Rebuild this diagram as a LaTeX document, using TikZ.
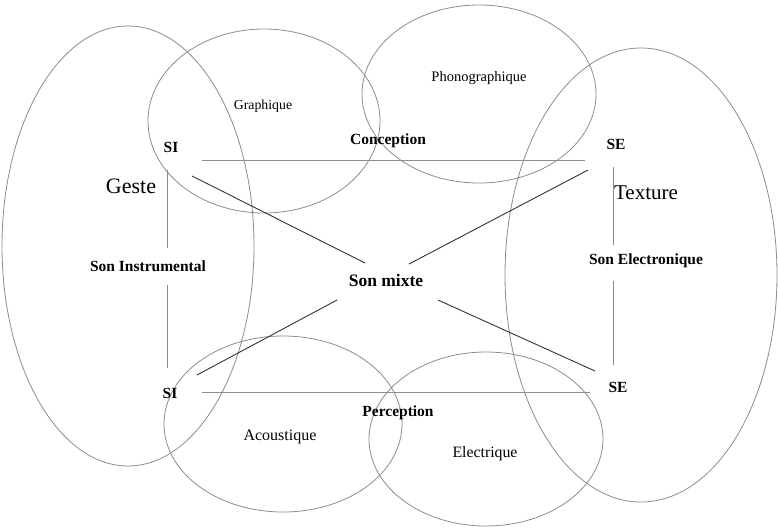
\documentclass[tikz,border=0pt]{standalone}
\usepackage{fontspec}
\setmainfont{Liberation Serif}
\tikzset{
    zone/.style={draw=black!45,line width=0.8pt},
    axe/.style={draw=black!45,line width=0.8pt},
    lien/.style={draw=black!80,line width=0.9pt},
    pole/.style={font=\fontsize{15.5}{17}\selectfont\bfseries},
    titre/.style={font=\fontsize{22}{24}\selectfont},
    champ/.style={font=\fontsize{14.5}{16}\selectfont}
}
\begin{document}
\begin{tikzpicture}[x=1pt,y=-1pt]
        \useasboundingbox (0,0) rectangle (778,528);
        %% Ellipses
        \draw[zone] (128,246) ellipse [x radius=126, y radius=220];
        \draw[zone] (264,121) ellipse [x radius=116, y radius=92];
        \draw[zone] (479,94) ellipse [x radius=117, y radius=89];
        \draw[zone] (641,275) ellipse [x radius=136, y radius=227];
        \draw[zone] (283,424) ellipse [x radius=119, y radius=88];
        \draw[zone] (486,439) ellipse [x radius=117, y radius=87];
        %% Poles
        \node[pole] (siH) at (171,147) {SI};
        \node[pole] (seH) at (616,144) {SE};
        \node[pole] (siB) at (170,393) {SI};
        \node[pole] (seB) at (618,387) {SE};
        \node[pole] (instr) at (148,266) {Son Instrumental};
        \node[pole] (elec) at (646,261) {Son Electronique};
        \node[pole] (concep) at (388,141) {Conception};
        \node[pole] (percep) at (398,413) {Perception};
        \node[pole,font=\fontsize{17.5}{19}\selectfont\bfseries] (mixte) at (386,281) {Son mixte};
        \node[titre] (geste) at (131,186) {Geste};
        \node[titre,font=\fontsize{21}{23}\selectfont] (texture) at (646,193) {Texture};
        \node[champ,font=\fontsize{13.8}{15}\selectfont] (graph) at (263,106) {Graphique};
        \node[champ] (phono) at (479,78) {Phonographique};
        \node[champ,font=\fontsize{16}{18}\selectfont] (acous) at (280,437) {Acoustique};
        \node[champ,font=\fontsize{15.8}{18}\selectfont] (electr) at (485,454) {Electrique};
        %% Line ends
        \coordinate (hG) at (202,160);
        \coordinate (hD) at (585,160);
        \coordinate (bG) at (202,392);
        \coordinate (bD) at (590,392);
        \coordinate (vG1) at (167,170);
        \coordinate (vG2) at (167,248);
        \coordinate (vG3) at (167,285);
        \coordinate (vG4) at (167,368);
        \coordinate (vD1) at (613,167);
        \coordinate (vD2) at (613,245);
        \coordinate (vD3) at (613,281);
        \coordinate (vD4) at (613,365);
        \coordinate (dHG) at (192,176);
        \coordinate (dHD) at (588,170);
        \coordinate (dBG) at (197,375);
        \coordinate (dBD) at (595,371);
        \coordinate (mHG) at (365,263);
        \coordinate (mHD) at (409,264);
        \coordinate (mBG) at (337,300);
        \coordinate (mBD) at (438,300);
        %% Axes
        \draw[axe] (hG) -- (hD);
        \draw[axe] (bG) -- (bD);
        \draw[axe] (vG1) -- (vG2);
        \draw[axe] (vG3) -- (vG4);
        \draw[axe] (vD1) -- (vD2);
        \draw[axe] (vD3) -- (vD4);
        %% Diagonals to Son mixte
        \draw[lien] (dHG) -- (mHG);
        \draw[lien] (dHD) -- (mHD);
        \draw[lien] (dBG) -- (mBG);
        \draw[lien] (dBD) -- (mBD);
\end{tikzpicture}
\end{document}
